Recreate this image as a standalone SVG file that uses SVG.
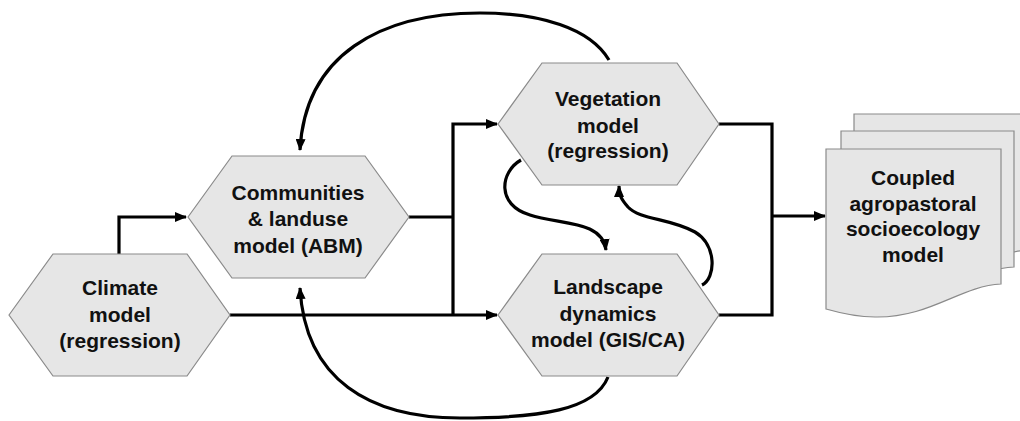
<svg xmlns="http://www.w3.org/2000/svg" width="1020" height="421" viewBox="0 0 1020 421">
<defs>
<style>
.hex{fill:#e6e6e6;stroke:#8a8a8a;stroke-width:1.2}
.page{fill:#e6e6e6;stroke:#8a8a8a;stroke-width:1.2}
.lbl{font-family:"Liberation Sans",Arial,sans-serif;font-weight:bold;font-size:21px;fill:#111;text-anchor:middle}
.ln{fill:none;stroke:#000;stroke-width:3.2}
</style>
<marker id="ah" viewBox="0 0 12 10" refX="11" refY="5" markerWidth="12" markerHeight="10" markerUnits="userSpaceOnUse" orient="auto">
<path d="M0,0 L12,5 L0,10 Z" fill="#000"/>
</marker>
</defs>
<rect width="1020" height="421" fill="#fff"/>

<g id="connectors">
<polyline class="ln" points="119,254 119,217 186,217" marker-end="url(#ah)"/>
<polyline class="ln" points="230,315 497,315" marker-end="url(#ah)"/>
<polyline class="ln" points="409,217 453,217"/>
<polyline class="ln" points="453,315 453,124 497,124" marker-end="url(#ah)"/>
<polyline class="ln" points="719,124 772,124 772,315 719,315"/>
<polyline class="ln" points="772,216 825,216" marker-end="url(#ah)"/>
<path class="ln" d="M609,60 C590,28 540,13 480,13 C380,13 305,55 300,150" marker-end="url(#ah)"/>
<path class="ln" d="M608,377 C595,410 540,418 460,418 C370,418 305,380 300,288" marker-end="url(#ah)"/>
<path class="ln" d="M521,160 C500,172 496,205 530,215 C560,225 602,220 606,250" marker-end="url(#ah)"/>
<path class="ln" d="M702,285 C716,278 717,245 695,232 C670,218 640,220 628,207 C621,199 619,195 619,186" marker-end="url(#ah)"/>
</g>

<g id="climate">
<polygon class="hex" points="9,315 53,254 187,254 230,315 187,376 53,376"/>
<text class="lbl" x="120" y="295">Climate</text>
<text class="lbl" x="120" y="322">model</text>
<text class="lbl" x="120" y="348">(regression)</text>
</g>

<g id="communities">
<polygon class="hex" points="188,217 232,156 365,156 409,217 365,278 232,278"/>
<text class="lbl" x="298" y="200">Communities</text>
<text class="lbl" x="298" y="226">&amp; landuse</text>
<text class="lbl" x="298" y="253">model (ABM)</text>
</g>

<g id="vegetation">
<polygon class="hex" points="498,124 542,63 677,63 719,124 677,185 542,185"/>
<text class="lbl" x="608" y="106">Vegetation</text>
<text class="lbl" x="608" y="133">model</text>
<text class="lbl" x="608" y="158">(regression)</text>
</g>

<g id="landscape">
<polygon class="hex" points="498,315 542,254 677,254 719,315 677,376 542,376"/>
<text class="lbl" x="608" y="294">Landscape</text>
<text class="lbl" x="608" y="321">dynamics</text>
<text class="lbl" x="608" y="347">model (GIS/CA)</text>
</g>

<g id="coupled">
<path class="page" d="M854,114 H1028 V250 C987,252 957,284 902,283 C882,283 867,279 854,275 Z"/>
<path class="page" d="M841,131 H1014 V267 C973,269 943,301 888,300 C868,300 853,296 841,292 Z"/>
<path class="page" d="M826,149 H1001 V284 C960,286 930,318 875,317 C855,317 840,313 826,309 Z"/>
<text class="lbl" x="913" y="185">Coupled</text>
<text class="lbl" x="913" y="211">agropastoral</text>
<text class="lbl" x="913" y="236">socioecology</text>
<text class="lbl" x="913" y="262">model</text>
</g>
</svg>
